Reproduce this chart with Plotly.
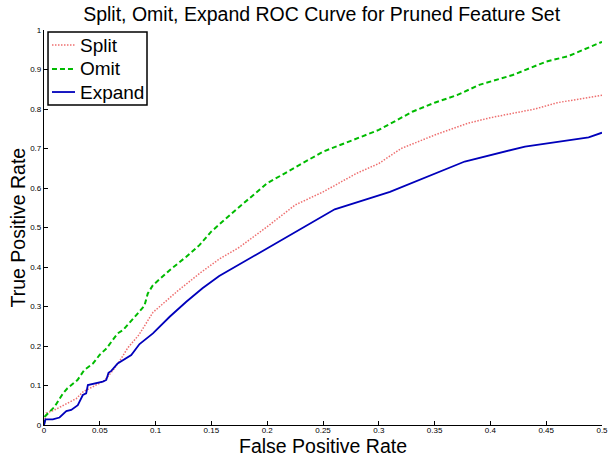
import plotly.graph_objects as go

# ---- data ----
split_x = [0, 0.002, 0.0094, 0.02, 0.029, 0.035, 0.044, 0.054, 0.062, 0.068, 0.075, 0.085,
           0.0976, 0.11, 0.12, 0.14, 0.157, 0.175, 0.2, 0.225, 0.25, 0.28, 0.3, 0.32, 0.35,
           0.38, 0.4, 0.44, 0.46, 0.5]
split_y = [0, 0.03, 0.038, 0.053, 0.067, 0.084, 0.097, 0.112, 0.139, 0.163, 0.195, 0.228,
           0.285, 0.315, 0.34, 0.385, 0.42, 0.45, 0.502, 0.557, 0.59, 0.637, 0.662, 0.70, 0.734,
           0.764, 0.778, 0.80, 0.816, 0.835]

omit_x = [0, 0.001, 0.0094, 0.017, 0.021, 0.03, 0.036, 0.044, 0.05, 0.056, 0.066, 0.0707,
          0.0827, 0.09, 0.093, 0.0976, 0.1126, 0.1275, 0.1395, 0.15, 0.16, 0.17, 0.2, 0.25,
          0.3, 0.33, 0.35, 0.37, 0.39, 0.4, 0.42, 0.45, 0.47, 0.49, 0.5]
omit_y = [0, 0.022, 0.046, 0.08, 0.093, 0.114, 0.139, 0.156, 0.178, 0.194, 0.232, 0.24,
          0.278, 0.302, 0.333, 0.354, 0.392, 0.426, 0.456, 0.49, 0.515, 0.54, 0.612, 0.692,
          0.747, 0.793, 0.816, 0.835, 0.861, 0.869, 0.886, 0.92, 0.934, 0.958, 0.97]

expand_x = [0, 0.0013, 0.0079, 0.0139, 0.02, 0.0244, 0.0303, 0.0348, 0.0378, 0.0393, 0.0527,
            0.0558, 0.0578, 0.0603, 0.066, 0.0737, 0.0782, 0.0856, 0.0976, 0.1126, 0.1275,
            0.142, 0.157, 0.2605, 0.31, 0.377, 0.431, 0.488, 0.5]
expand_y = [0, 0.014, 0.014, 0.019, 0.035, 0.038, 0.05, 0.076, 0.08, 0.101, 0.11,
            0.114, 0.132, 0.137, 0.156, 0.169, 0.177, 0.205, 0.232, 0.274, 0.312,
            0.346, 0.377, 0.546, 0.59, 0.667, 0.705, 0.728, 0.74]

series_names = ["Split", "Omit", "Expand"]

x_ticks = [0, 0.05, 0.1, 0.15, 0.2, 0.25, 0.3, 0.35, 0.4, 0.45, 0.5]
x_tick_labels = ["0", "0.05", "0.1", "0.15", "0.2", "0.25", "0.3", "0.35", "0.4", "0.45", "0.5"]
y_ticks = [0, 0.1, 0.2, 0.3, 0.4, 0.5, 0.6, 0.7, 0.8, 0.9, 1]
y_tick_labels = ["0", "0.1", "0.2", "0.3", "0.4", "0.5", "0.6", "0.7", "0.8", "0.9", "1"]

FONT = "Liberation Sans, Arial, Helvetica, sans-serif"
styles = [
    dict(color="#ee6f6f", width=1.5, dash="1.5px,1.5px"),
    dict(color="#00bb00", width=2, dash="5px,3px"),
    dict(color="#0000bb", width=1.8, dash="solid"),
]

fig = go.Figure()
for name, xs, ys, st in zip(series_names, [split_x, omit_x, expand_x],
                            [split_y, omit_y, expand_y], styles):
    fig.add_trace(go.Scatter(x=xs, y=ys, mode="lines", name=name, line=st,
                             showlegend=False))

# hand-built legend box (MATLAB style), in plot-area paper coordinates
shapes = [dict(type="rect", xref="paper", yref="paper", x0=0.0072, x1=0.1846,
               y0=0.8101, y1=0.9949, line=dict(color="black", width=1.5),
               fillcolor="white", layer="above")]
annotations = []
legend_rows = [0.962, 0.9013, 0.843]
for name, st, yy in zip(series_names, styles, legend_rows):
    shapes.append(dict(type="line", xref="paper", yref="paper", x0=0.0143, x1=0.0556,
                       y0=yy, y1=yy, layer="above",
                       line=dict(color=st["color"], width=st["width"], dash=st["dash"])))
    annotations.append(dict(text=name, xref="paper", yref="paper", x=0.0609, y=yy,
                            xanchor="left", yanchor="middle", showarrow=False,
                            font=dict(size=19, family=FONT, color="black")))

annotations += [
    dict(text="False Positive Rate", xref="paper", yref="paper", x=0.5, y=-0.053,
         xanchor="center", yanchor="middle", showarrow=False,
         font=dict(size=19.5, family=FONT, color="black")),
    dict(text="True Positive Rate", xref="paper", yref="paper", x=-0.0466, y=0.5,
         xanchor="center", yanchor="middle", showarrow=False, textangle=-90,
         font=dict(size=19.5, family=FONT, color="black")),
]

fig.update_layout(
    width=608, height=457,
    margin=dict(l=44, r=6, t=30, b=32, autoexpand=False),
    paper_bgcolor="white", plot_bgcolor="white",
    font=dict(family=FONT, color="black"),
    title=dict(text="Split, Omit, Expand ROC Curve for Pruned Feature Set",
               font=dict(size=19.5, family=FONT, color="black"),
               x=0.529, xanchor="center", y=0.97, yanchor="middle", yref="container",
               automargin=False),
    showlegend=False,
    xaxis=dict(range=[0, 0.5], tickvals=x_ticks, ticktext=x_tick_labels,
               showgrid=False, zeroline=False, showline=True, linecolor="black", linewidth=1.2,
               ticks="inside", ticklen=4, tickcolor="black", tickwidth=1,
               tickfont=dict(size=8, family=FONT), ticklabeloverflow="allow",
               ticklabelstandoff=-3, automargin=False),
    yaxis=dict(range=[0, 1], tickvals=y_ticks, ticktext=y_tick_labels,
               showgrid=False, zeroline=False, showline=True, linecolor="black", linewidth=1.2,
               ticks="inside", ticklen=4, tickcolor="black", tickwidth=1,
               tickfont=dict(size=8, family=FONT), ticklabeloverflow="allow",
               automargin=False),
    shapes=shapes,
    annotations=annotations,
)

fig.write_html("out.html", config={"displayModeBar": False},
               post_script="document.body.style.margin='0';document.body.style.overflow='hidden';")
